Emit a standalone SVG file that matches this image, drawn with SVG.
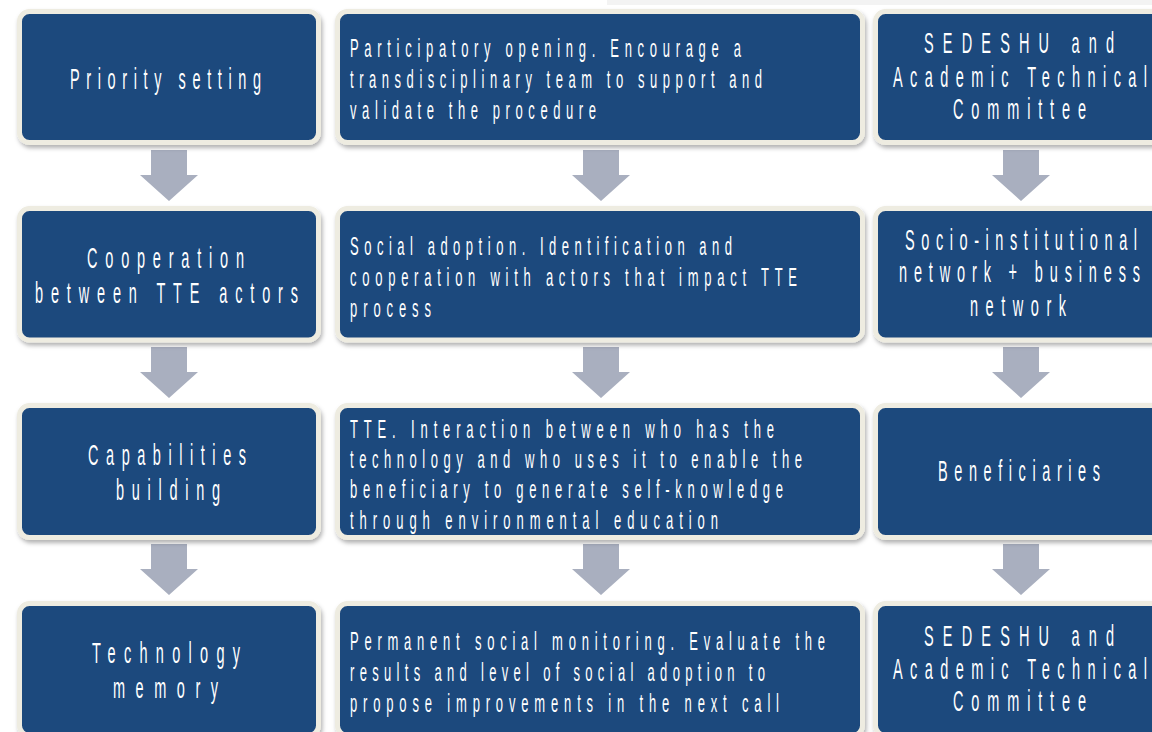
<svg xmlns="http://www.w3.org/2000/svg" width="1152" height="732" viewBox="0 0 1152 732">
<defs>
<style>
.box{fill:#1f497d;stroke:#eeece1;stroke-width:5;filter:url(#sh)}
.arr{fill:#a9afbf}
.t{fill:#ffffff;font-family:"Liberation Sans",Arial,sans-serif}
.a{font-size:29px}
.b{font-size:26px}
</style>
<filter id="sh" x="-5%" y="-10%" width="110%" height="125%">
<feDropShadow dx="1.5" dy="3" stdDeviation="2" flood-color="#000" flood-opacity="0.3"/>
</filter>
</defs>
<rect x="0" y="0" width="1152" height="732" fill="#ffffff"/>
<rect x="607" y="0" width="545" height="5" fill="#f3f3f3"/>

<g id="connectors">
<polygon class="arr" points="151,150 187,150 187,175 198,175 169,201 140,175 151,175"/>
<polygon class="arr" points="151,347 187,347 187,372 198,372 169,398 140,372 151,372"/>
<polygon class="arr" points="151,544 187,544 187,569 198,569 169,595 140,569 151,569"/>
<polygon class="arr" points="583,150 619,150 619,175 630,175 601,201 572,175 583,175"/>
<polygon class="arr" points="583,347 619,347 619,372 630,372 601,398 572,372 583,372"/>
<polygon class="arr" points="583,544 619,544 619,569 630,569 601,595 572,569 583,569"/>
<polygon class="arr" points="1003,150 1039,150 1039,175 1050,175 1021,201 992,175 1003,175"/>
<polygon class="arr" points="1003,347 1039,347 1039,372 1050,372 1021,398 992,372 1003,372"/>
<polygon class="arr" points="1003,544 1039,544 1039,569 1050,569 1021,595 992,569 1003,569"/>
</g>

<g id="priority-setting">
<rect class="box" x="19.5" y="11.5" width="299" height="131" rx="10"/>
<text class="t a" transform="scale(0.5,1)" x="140" y="89" textLength="382" lengthAdjust="spacing">Priority setting</text>
</g>
<g id="participatory-opening">
<rect class="box" x="337.5" y="11.5" width="525" height="131" rx="10"/>
<g class="t b" transform="scale(0.5,1)">
<text x="700" y="57" textLength="782" lengthAdjust="spacing">Participatory opening. Encourage a</text>
<text x="700" y="88" textLength="824" lengthAdjust="spacing">transdisciplinary team to support and</text>
<text x="700" y="119" textLength="492" lengthAdjust="spacing">validate the procedure</text>
</g>
</g>
<g id="sedeshu-1">
<rect class="box" x="875.5" y="11.5" width="291" height="131" rx="10"/>
<g class="t a" transform="scale(0.5,1)">
<text x="1848" y="53" textLength="380" lengthAdjust="spacing">SEDESHU and</text>
<text x="1786" y="87" textLength="508" lengthAdjust="spacing">Academic Technical</text>
<text x="1906" y="119" textLength="266" lengthAdjust="spacing">Committee</text>
</g>
</g>

<g id="cooperation">
<rect class="box" x="19.5" y="208.5" width="299" height="131.5" rx="10"/>
<g class="t a" transform="scale(0.5,1)">
<text x="174" y="268" textLength="314" lengthAdjust="spacing">Cooperation</text>
<text x="70" y="303" textLength="526" lengthAdjust="spacing">between TTE actors</text>
</g>
</g>
<g id="social-adoption">
<rect class="box" x="337.5" y="208.5" width="525" height="131.5" rx="10"/>
<g class="t b" transform="scale(0.5,1)">
<text x="700" y="255" textLength="764" lengthAdjust="spacing">Social adoption. Identification and</text>
<text x="700" y="286" textLength="894" lengthAdjust="spacing">cooperation with actors that impact TTE</text>
<text x="700" y="317" textLength="162" lengthAdjust="spacing">process</text>
</g>
</g>
<g id="socio-institutional">
<rect class="box" x="875.5" y="208.5" width="291" height="131.5" rx="10"/>
<g class="t a" transform="scale(0.5,1)">
<text x="1810" y="250" textLength="464" lengthAdjust="spacing">Socio-institutional</text>
<text x="1798" y="282" textLength="482" lengthAdjust="spacing">network + business</text>
<text x="1940" y="316" textLength="192" lengthAdjust="spacing">network</text>
</g>
</g>

<g id="capabilities">
<rect class="box" x="19.5" y="405.5" width="299" height="132" rx="10"/>
<g class="t a" transform="scale(0.5,1)">
<text x="176" y="465" textLength="316" lengthAdjust="spacing">Capabilities</text>
<text x="232" y="500" textLength="208" lengthAdjust="spacing">building</text>
</g>
</g>
<g id="tte-interaction">
<rect class="box" x="337.5" y="405.5" width="525" height="132" rx="10"/>
<g class="t b" transform="scale(0.5,1)">
<text x="700" y="438" textLength="848" lengthAdjust="spacing">TTE. Interaction between who has the</text>
<text x="700" y="468" textLength="904" lengthAdjust="spacing">technology and who uses it to enable the</text>
<text x="700" y="498" textLength="866" lengthAdjust="spacing">beneficiary to generate self-knowledge</text>
<text x="700" y="529" textLength="736" lengthAdjust="spacing">through environmental education</text>
</g>
</g>
<g id="beneficiaries">
<rect class="box" x="875.5" y="405.5" width="291" height="132" rx="10"/>
<text class="t a" transform="scale(0.5,1)" x="1876" y="481" textLength="324" lengthAdjust="spacing">Beneficiaries</text>
</g>

<g id="technology-memory">
<rect class="box" x="19.5" y="603.5" width="299" height="132" rx="10"/>
<g class="t a" transform="scale(0.5,1)">
<text x="184" y="663" textLength="296" lengthAdjust="spacing">Technology</text>
<text x="226" y="698" textLength="210" lengthAdjust="spacing">memory</text>
</g>
</g>
<g id="permanent-monitoring">
<rect class="box" x="337.5" y="603.5" width="525" height="132" rx="10"/>
<g class="t b" transform="scale(0.5,1)">
<text x="700" y="650" textLength="950" lengthAdjust="spacing">Permanent social monitoring. Evaluate the</text>
<text x="700" y="681" textLength="830" lengthAdjust="spacing">results and level of social adoption to</text>
<text x="700" y="712" textLength="858" lengthAdjust="spacing">propose improvements in the next call</text>
</g>
</g>
<g id="sedeshu-2">
<rect class="box" x="875.5" y="603.5" width="291" height="132" rx="10"/>
<g class="t a" transform="scale(0.5,1)">
<text x="1848" y="646" textLength="380" lengthAdjust="spacing">SEDESHU and</text>
<text x="1786" y="679" textLength="508" lengthAdjust="spacing">Academic Technical</text>
<text x="1906" y="711" textLength="266" lengthAdjust="spacing">Committee</text>
</g>
</g>
</svg>
